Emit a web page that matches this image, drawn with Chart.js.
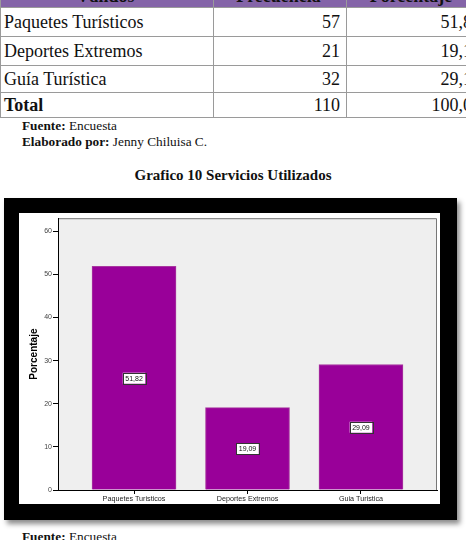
<!DOCTYPE html>
<html>
<head>
<meta charset="utf-8">
<script src="https://cdn.jsdelivr.net/npm/chart.js@4/dist/chart.umd.min.js"></script>
<style>
  html, body { margin: 0; padding: 0; background: #fff; }
  body { width: 466px; height: 540px; overflow: hidden; position: relative; font-family: 'Liberation Serif', serif; color: #111; }
  .abs { position: absolute; white-space: nowrap; }
  table { position: absolute; left: 0; top: -22px; border-collapse: collapse; font-size: 18px; width: 478px; table-layout: fixed; }
  td { border: 1.5px solid #9a9a9a; padding: 0 6px 0 3px; line-height: 20px; }
  td.num { text-align: right; }
  tr.head td { background: #8464a8; font-weight: bold; text-align: center; vertical-align: bottom; padding-bottom: 1px; }
  tr.total td { font-weight: bold; }
  tr.total td.num { font-weight: normal; }
  .note { font-size: 13.3px; line-height: 16px; left: 22px; }
  .frame { position: absolute; left: 4px; top: 198px; width: 453px; height: 322px; background: #000; box-shadow: 3px 4px 5px rgba(0,0,0,0.45); }
  .panel { position: absolute; left: 15px; top: 15px; width: 421px; height: 291px; background: #fff; }
</style>
</head>
<body>
<table id="tbl">
  <colgroup><col style="width:213px"><col style="width:133px"><col style="width:132px"></colgroup>
</table>

<div class="abs note" style="top:118px"><b>Fuente:</b> Encuesta</div>
<div class="abs note" style="top:134px"><b>Elaborado por:</b> Jenny Chiluisa C.</div>
<div class="abs" style="top:166px; left:0; width:466px; text-align:center; font-size:15px; line-height:18px; font-weight:bold">Grafico 10 Servicios Utilizados</div>

<div class="frame">
  <div class="panel"><canvas id="chart" width="421" height="291"></canvas></div>
</div>

<div class="abs note" style="top:529px"><b>Fuente:</b> Encuesta</div>

<script>
// table data
const headers = ['Válidos', 'Frecuencia', 'Porcentaje']
const tableRows = ['Paquetes Turísticos', 'Deportes Extremos', 'Guía Turística']
const frequencies = [57, 21, 32]
const tablePercent = ['51,8', '19,1', '29,1']
const totalRow = ['Total', 110, '100,0']

// chart data
const categories = ['Paquetes Turisticos', 'Deportes Extremos', 'Guia Turistica']
const percentages = [51.82, 19.09, 29.09]
const yTicks = [0, 10, 20, 30, 40, 50, 60]

const tbl = document.getElementById('tbl')
const rowHeights = [29, 29, 29, 27, 25]

function addRow (cells, cls, h) {
    const tr = document.createElement('tr')
    if (cls) tr.className = cls
    tr.style.height = h + 'px'
    cells.forEach((c, i) => {
        const td = document.createElement('td')
        td.textContent = c
        if (i > 0 && cls !== 'head') td.className = 'num'
        tr.appendChild(td)
    })
    tbl.appendChild(tr)
}

addRow(headers, 'head', rowHeights[0])
tableRows.forEach((r, i) => addRow([r, frequencies[i], tablePercent[i]], '', rowHeights[i + 1]))
addRow(totalRow, 'total', rowHeights[4])

const plotBg = {
    id: 'plotBg',
    beforeDraw (chart) {
        const {ctx, chartArea: a} = chart
        ctx.save()
        ctx.fillStyle = '#efefef'
        ctx.fillRect(a.left, a.top, a.right - a.left, a.bottom - a.top)
        ctx.strokeStyle = '#777'
        ctx.lineWidth = 1
        ctx.beginPath()
        ctx.moveTo(a.left, a.top + 0.5)
        ctx.lineTo(a.right - 0.5, a.top + 0.5)
        ctx.lineTo(a.right - 0.5, a.bottom)
        ctx.stroke()
        ctx.restore()
    }
}

const barLabels = {
    id: 'barLabels',
    afterDatasetsDraw (chart) {
        const ctx = chart.ctx
        const y = chart.scales.y
        ctx.save()
        ctx.font = '7px "Liberation Sans", Arial, sans-serif'
        ctx.textAlign = 'center'
        ctx.textBaseline = 'middle'
        chart.getDatasetMeta(0).data.forEach((bar, i) => {
            const cy = y.getPixelForValue(percentages[i] / 2)
            const txt = percentages[i].toFixed(2).replace('.', ',')
            const w = ctx.measureText(txt).width + 5
            ctx.fillStyle = '#fff'
            ctx.fillRect(bar.x - w / 2, cy - 5.5, w, 11)
            ctx.strokeStyle = '#333'
            ctx.lineWidth = 1
            ctx.strokeRect(Math.round(bar.x - w / 2) + 0.5, Math.round(cy - 5.5) + 0.5, Math.round(w), 11)
            ctx.fillStyle = '#111'
            ctx.fillText(txt, bar.x, cy + 0.5)
        })
        ctx.restore()
    }
}

new Chart(document.getElementById('chart'), {
    type: 'bar',
    data: {
        datasets: [{
            data: categories.map((c, i) => ({x: i, y: percentages[i]})),
            backgroundColor: '#990099',
            borderColor: '#a8389f',
            borderWidth: 1,
            barThickness: 84
        }]
    },
    options: {
        responsive: false,
        animation: false,
        layout: {padding: {top: 3, right: 3, left: 0, bottom: 0}},
        plugins: {legend: {display: false}, tooltip: {enabled: false}},
        scales: {
            x: {
                type: 'linear',
                offset: false,
                min: -0.67,
                max: 2.67,
                afterBuildTicks: s => { s.ticks = categories.map((c, i) => ({value: i})) },
                afterFit: s => { s.height = 14 },
                ticks: {
                    callback: v => categories[v],
                    font: {family: 'Liberation Sans', size: 7.2},
                    color: '#222',
                    padding: 1,
                    maxRotation: 0,
                    autoSkip: false
                },
                grid: {offset: false, drawOnChartArea: false, tickLength: 4, color: '#000'},
                border: {color: '#000', width: 1}
            },
            y: {
                min: 0,
                max: 63,
                afterBuildTicks: s => { s.ticks = yTicks.map(v => ({value: v})) },
                afterFit: s => { s.width = 39 },
                ticks: {font: {family: 'Liberation Sans', size: 7}, color: '#444', padding: 1},
                grid: {drawOnChartArea: false, tickLength: 5, color: '#000'},
                border: {color: '#000', width: 1},
                title: {
                    display: true,
                    text: 'Porcentaje',
                    font: {family: 'Liberation Sans', size: 10, weight: 'bold'},
                    color: '#000',
                    padding: {top: 9, bottom: 0}
                }
            }
        }
    },
    plugins: [plotBg, barLabels]
})
</script>
</body>
</html>
